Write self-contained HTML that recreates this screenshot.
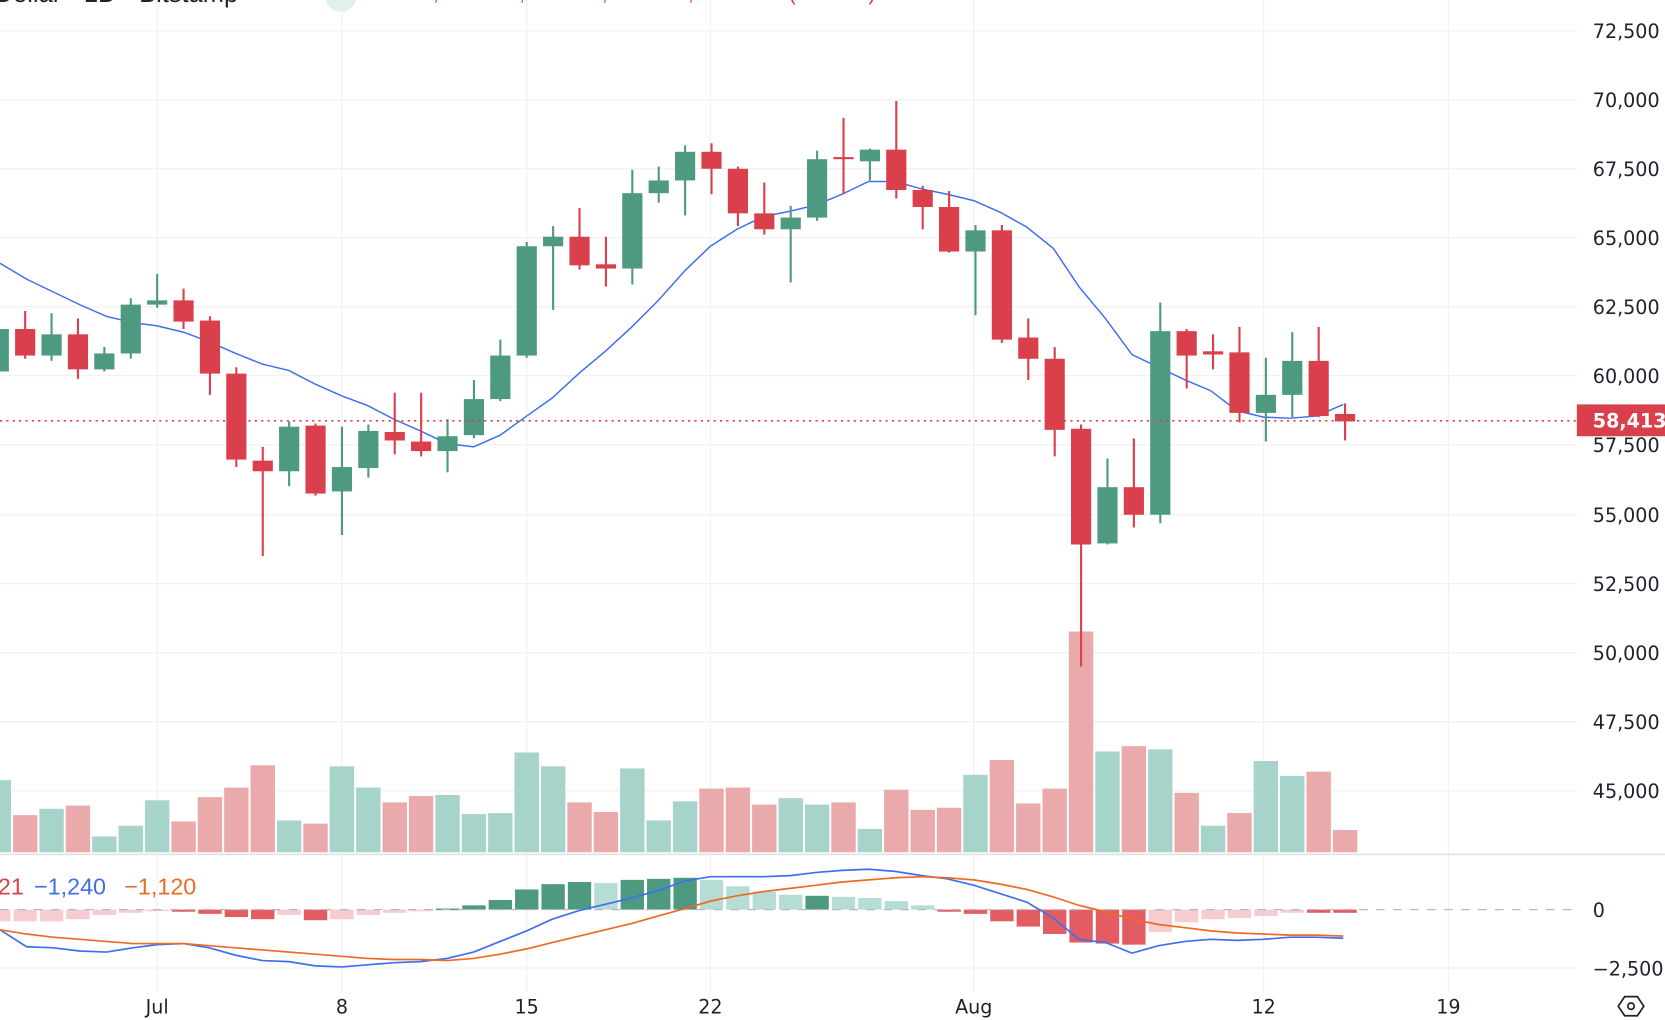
<!DOCTYPE html>
<html><head><meta charset="utf-8"><style>
html,body{margin:0;padding:0;background:#fff;overflow:hidden}
svg{display:block}
text{font-family:"Liberation Sans","DejaVu Sans",sans-serif}
.dv{font-family:"DejaVu Sans","Liberation Sans",sans-serif}
</style></head><body>
<svg id="s" width="1665" height="1020" viewBox="0 0 1568 961" preserveAspectRatio="none" xmlns="http://www.w3.org/2000/svg">
<rect width="1568" height="961" fill="#fff"/>
<g id="grid" stroke="#f0f1f3" stroke-width="1.2"></g>
<g id="vol"></g>
<g id="hist"></g>
<line x1="0" y1="857" x2="1485" y2="857" stroke="#b8b8b8" stroke-width="1.2" stroke-dasharray="8,8"/>
<line x1="0" y1="805" x2="1568" y2="805" stroke="#dfe1e6" stroke-width="1.5"/>
<polyline id="ma" fill="none" stroke="#3f6ff0" stroke-width="1.4"/>
<g id="candles"></g>
<line x1="0" y1="396.5" x2="1485" y2="396.5" stroke="#d9404b" stroke-width="1.5" stroke-dasharray="2,4"/>
<polyline id="macd" fill="none" stroke="#3f6ff0" stroke-width="1.6"/>
<polyline id="sig" fill="none" stroke="#ee6a24" stroke-width="1.6"/>
<g font-size="18" fill="#1e222d" class="dv">
<text class="dv" x="1500" y="36">72,500</text><text class="dv" x="1500" y="101">70,000</text><text class="dv" x="1500" y="166">67,500</text>
<text class="dv" x="1500" y="231">65,000</text><text class="dv" x="1500" y="296">62,500</text><text class="dv" x="1500" y="361">60,000</text>
<text class="dv" x="1500" y="426">57,500</text><text class="dv" x="1500" y="492">55,000</text><text class="dv" x="1500" y="557">52,500</text>
<text class="dv" x="1500" y="622">50,000</text><text class="dv" x="1500" y="687">47,500</text><text class="dv" x="1500" y="752">45,000</text>
<text class="dv" x="1500" y="864">0</text><text class="dv" x="1500" y="919">−2,500</text>
</g>
<rect x="1485" y="381" width="83" height="30" fill="#d9404b"/>
<text class="dv" x="1500" y="403" font-size="18" fill="#fff" font-weight="bold">58,413</text>
<g font-size="18" fill="#1e222d" text-anchor="middle">
<text class="dv" x="148" y="955">Jul</text><text class="dv" x="322" y="955">8</text><text class="dv" x="496" y="955">15</text>
<text class="dv" x="669" y="955">22</text><text class="dv" x="917" y="955">Aug</text><text class="dv" x="1190" y="955">12</text><text class="dv" x="1364" y="955">19</text>
</g>
<g font-size="22">
<text x="-2" y="843" fill="#d9404b">21</text>
<text x="32" y="843" fill="#3f6ff0">−1,240</text>
<text x="117" y="843" fill="#ee6a24">−1,120</text>
</g>
<text x="-5" y="2" font-size="24" fill="#1e222d">Dollar · 1D · Bitstamp</text>
<circle cx="321" cy="-4" r="15" fill="#e3efea"/>
<text x="370" y="0" font-size="20" fill="#d9404b">O58,674 H59,847 L57,717 C58,413 −261 (−0.44%)</text>
<polygon points="1524,948 1530,939 1542,939 1548,948 1542,957 1530,957" fill="none" stroke="#1e222d" stroke-width="1.6"/>
<circle cx="1536" cy="948" r="3" fill="none" stroke="#1e222d" stroke-width="1.6"/>
</svg>
<script>
var NS="http://www.w3.org/2000/svg";
function el(p,t,a){var e=document.createElementNS(NS,t);for(var k in a)e.setAttribute(k,a[k]);document.getElementById(p).appendChild(e);return e;}
function X(d){return 148+24.86*d;}
var G="#4e9a80",R="#d9404b";
[29,94,159,224,289,354,419,485,550,615,680,745].forEach(function(y){el("grid","line",{x1:0,x2:1485,y1:y,y2:y});});
el("grid","line",{x1:0,x2:1485,y1:912,y2:912});
[148,322,496,669,917,1190,1364].forEach(function(x){el("grid","line",{x1:x,x2:x,y1:0,y2:935});});
var C=[[-6,350,310,305,352],[-5,310,335,293,338],[-4,335,315,295,340],[-3,315,348,300,357],[-2,348,333,327,350],
[-1,333,287,281,338],[0,287,283,258,290],[1,283,303,272,310],[2,302,352,298,372],[3,352,433,346,440],
[4,434,444,421,524],[5,444,402,397,458],[6,401,465,399,467],[7,463,440,402,504],[8,441,406,400,450],
[9,407,415,370,428],[10,416,425,370,430],[11,425,411,395,445],[12,410,376,358,413],[13,376,335,320,378],
[14,335,232,228,337],[15,232,223,213,292],[16,223,250,196,254],[17,249,253,223,270],[18,253,182,160,268],
[19,182,170,157,191],[20,170,143,137,203],[21,143,159,135,183],[22,159,201,157,213],[23,201,216,172,221],
[24,216,205,194,266],[25,205,150,142,208],[26,148,150,111,183],[27,152,141,140,170],[28,141,179,95,187],
[29,179,195,175,216],[30,195,237,180,238],[31,237,217,212,297],[32,217,320,212,323],[33,318,338,300,358],
[34,338,405,327,430],[35,404,513,400,628],[36,512,459,432,513],[37,459,485,413,497],[38,485,312,285,493],
[39,312,335,310,366],[40,331,334,315,348],[41,332,389,308,398],[42,389,372,337,416],[43,372,340,313,393],
[44,340,392,308,393],[45,390,397,380,415]];
C.forEach(function(c){var x=X(c[0]),col=c[2]<c[1]?G:R;
el("candles","line",{x1:x,x2:x,y1:c[3],y2:c[4],stroke:col,"stroke-width":2});
var t=Math.min(c[1],c[2]),b=Math.max(c[1],c[2]);if(b-t<2)b=t+2;
el("candles","rect",{x:x-9.5,y:t,width:19,height:b-t,fill:col});});
var V=[[735,1],[768,0],[762,1],[759,0],[788,1],[778,1],[754,1],[774,0],[751,0],[742,0],[721,0],[773,1],[776,0],[722,1],[742,1],[756,0],[750,0],[749,1],[767,1],[766,1],[709,1],[722,1],[756,0],[765,0],[724,1],[773,1],[755,1],[743,0],[742,0],[758,0],[752,1],[758,1],[756,0],[781,1],[744,0],[763,0],[761,0],[730,1],[716,0],[757,0],[743,0],[595,0],[708,1],[703,0],[706,1],[747,0],[778,1],[766,0],[717,1],[731,1],[727,0],[782,0]];
V.forEach(function(v,i){var x=X(i-6);el("vol","rect",{x:x-11.5,y:v[0],width:23,height:803-v[0],fill:v[1]?"#a6d4cb":"#eaaaab"});});
var H=[[868,"rl"],[868,"rl"],[868,"rl"],[866,"rl"],[862,"rl"],[860,"rl"],[858,"rl"],[859,"r"],[861,"r"],[864,"r"],[866,"r"],[862,"rl"],[867,"r"],[866,"rl"],[862,"rl"],[860,"rl"],[858,"rl"],[856,"g"],[853,"g"],[848,"g"],[838,"g"],[833,"g"],[831,"g"],[832,"gl"],[829,"g"],[828,"g"],[827,"g"],[829,"gl"],[835,"gl"],[840,"gl"],[843,"gl"],[844,"g"],[845,"gl"],[846,"gl"],[849,"gl"],[853,"gl"],[859,"r"],[861,"r"],[868,"r"],[873,"r"],[880,"r"],[888,"r"],[889,"r"],[890,"r"],[878,"rl"],[869,"rl"],[866,"rl"],[865,"rl"],[863,"rl"],[860,"rl"],[860,"r"],[860,"r"]];
var HC={g:"#4e9a80",gl:"#b5ddd5",r:"#e35c62",rl:"#f6ccd1"};
H.forEach(function(h,i){var x=X(i-6),t=Math.min(h[0],857),b=Math.max(h[0],857);if(b-t<1.5)b=t+1.5;
el("hist","rect",{x:x-11,y:t,width:22,height:b-t,fill:HC[h[1]]});});
function pts(a){return a.map(function(p){return p.join(",");}).join(" ");}
var xs=[0,25,50,75,100,125,148,173,197,222,247,272,297,322,346,371,396,421,446,471,496,520,545,570,595,620,645,669,694,719,744,769,793,818,843,868,892,917,942,967,992,1016,1041,1066,1091,1116,1140,1165,1190,1215,1240,1265];
function zip(ys){return xs.map(function(x,i){return [x,ys[i]];});}
document.getElementById("ma").setAttribute("points",pts(zip([248,263,275,287,298,304,307,313,322,333,343,349,362,373,382,395,406,418,421,410,392,375,352,331,308,283,255,232,216,204,199,193,183,171,171,178,183,189,200,214,234,270,300,334,346,358,368,387,393,394,392,381])));
document.getElementById("macd").setAttribute("points",pts(zip([876,892,893,896,897,893,890,889,893,900,905,906,910,911,909,907,906,903,897,887,877,866,858,852,846,839,830,826,826,826,825,822,820,819,821,825,828,834,842,850,865,885,888,898,891,887,885,886,885,883,883,884])));
document.getElementById("sig").setAttribute("points",pts(zip([876,880,883,885,887,889,889,889,891,893,895,897,899,901,903,904,904,905,903,899,894,888,882,876,870,863,856,849,844,840,837,834,831,829,827,826,827,829,833,838,845,853,859,866,871,874,877,879,880,881,881,882])));
</script>
</body></html>
